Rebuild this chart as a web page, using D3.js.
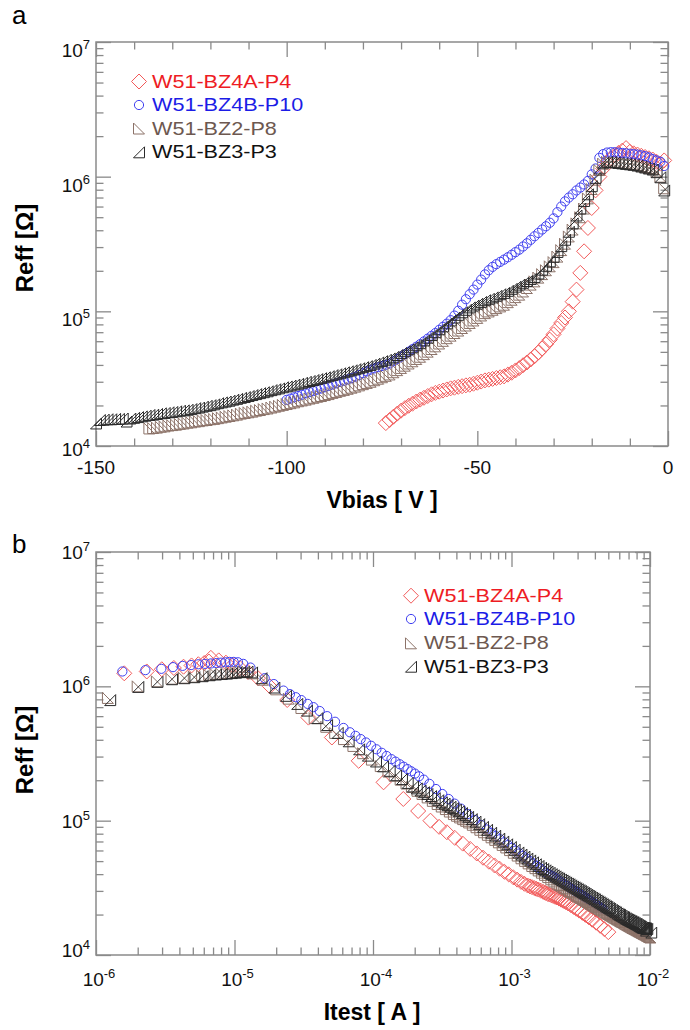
<!DOCTYPE html>
<html>
<head>
<meta charset="utf-8">
<script src="https://cdn.jsdelivr.net/npm/d3@7"></script>
<style>
  body { margin: 0; background: #fff; }
  svg { display: block; font-family: Arial, "Liberation Sans", sans-serif; }
</style>
</head>
<body>
<div id="wrapper"></div>
<script>
// ---- data ----
// Reff, in kOhm, one value per volt of the bias sweep
// (1 V steps, from the start voltage up to -1 V)
const seriesNames = ["W51-BZ4A-P4", "W51-BZ4B-P10", "W51-BZ2-P8", "W51-BZ3-P3"]
const sweepStart = [-74, -100, -136, -150]
const sweepStep = 1

const reffBZ4A = [
  14.8, 15.6, 16.5, 17.4, 18.3, 19.1, 19.9, 20.6, 21.4, 22.1,
  22.8, 23.5, 24.2, 24.8, 25.3, 25.8, 26.3, 26.8, 27.1, 27.5,
  27.8, 28.2, 28.5, 29.0, 29.5, 30.1, 30.7, 31.1, 31.5, 32.0,
  32.4, 32.9, 33.9, 35.0, 36.4, 37.9, 39.8, 41.7, 43.9, 46.4,
  49.5, 53.0, 57.0, 61.6, 67.5, 74.5, 82, 90, 100, 118,
  145, 193, 279, 416, 585, 791, 1000, 1150, 1280, 1370,
  1440, 1500, 1560, 1630, 1530, 1490, 1460, 1430, 1400, 1370,
  1340, 1290, 1250, 1320
]
const reffBZ4B = [
  22.0, 22.5, 23.0, 23.5, 24.0, 24.6, 25.1, 25.6, 26.2, 26.7,
  27.3, 27.9, 28.6, 29.2, 29.9, 30.5, 31.2, 31.9, 32.7, 33.7,
  34.7, 35.8, 36.9, 37.7, 38.5, 39.3, 40.1, 41.0, 42.6, 44.3,
  46.0, 48.0, 50.1, 52.3, 54.6, 57.0, 59.8, 62.7, 65.8, 69.0,
  72.8, 76.8, 81, 86, 93, 101, 112, 123, 134, 145,
  158, 172, 188, 202, 214, 224, 233, 242, 252, 263,
  275, 287, 303, 320, 340, 361, 382, 405, 428, 455,
  490, 545, 600, 655, 700, 740, 790, 830, 875, 930,
  1040, 1150, 1380, 1470, 1510, 1520, 1520, 1510, 1500, 1490,
  1480, 1470, 1460, 1440, 1420, 1390, 1350, 1320, 1290, 1200
]
const reffBZ2 = [
  13.5, 13.6, 13.7, 13.9, 14.0, 14.2, 14.3, 14.4, 14.6, 14.7,
  14.9, 15.0, 15.2, 15.3, 15.5, 15.6, 15.8, 15.9, 16.1, 16.3,
  16.5, 16.7, 16.9, 17.1, 17.4, 17.6, 17.8, 18.0, 18.3, 18.5,
  18.8, 19.0, 19.3, 19.6, 19.9, 20.2, 20.5, 20.8, 21.1, 21.5,
  21.8, 22.1, 22.5, 22.8, 23.2, 23.5, 23.9, 24.3, 24.8, 25.2,
  25.7, 26.1, 26.6, 27.1, 27.6, 28.2, 28.8, 29.4, 30.0, 30.8,
  31.6, 32.4, 33.2, 34.0, 35.3, 36.6, 38.0, 39.5, 41.0, 42.6,
  44.3, 46.0, 48.1, 50.2, 52.5, 55.0, 57.7, 60.4, 63.2, 66.0,
  69.0, 72.0, 75.2, 78.5, 82.0, 85.6, 89.4, 93.2, 97.0, 99.8,
  102.7, 105.7, 108.8, 112, 117, 122, 127.5, 133, 140.5, 149,
  158, 167, 178, 189, 202, 216, 232, 255, 285, 318,
  360, 405, 450, 500, 580, 690, 810, 950, 1120, 1250,
  1290, 1295, 1285, 1275, 1265, 1255, 1245, 1235, 1220, 1200,
  1180, 1160, 1140, 1090, 1000, 820
]
const reffBZ3 = [
  14.7, 15.6, 15.7, 15.8, 15.8, 15.9, 15.9, 16.0, 15.2, 16.0,
  16.2, 16.4, 16.6, 16.8, 17.0, 17.1, 17.3, 17.5, 17.6, 17.8,
  17.9, 18.1, 18.3, 18.4, 18.6, 18.8, 19.1, 19.3, 19.6, 19.9,
  20.1, 20.4, 20.8, 21.1, 21.4, 21.7, 22.1, 22.4, 22.8, 23.1,
  23.5, 23.9, 24.3, 24.7, 25.1, 25.5, 26.0, 26.4, 26.8, 27.3,
  27.7, 28.1, 28.6, 29.0, 29.5, 30.0, 30.4, 30.9, 31.4, 31.9,
  32.4, 33.0, 33.6, 34.1, 34.7, 35.3, 35.9, 36.5, 37.2, 37.8,
  38.5, 39.2, 40.0, 40.9, 41.8, 42.7, 43.7, 44.7, 46.0, 47.4,
  49.0, 50.6, 52.3, 54.1, 56.0, 58.0, 60.8, 63.7, 66.7, 70.0,
  73.6, 77.4, 81.4, 85.6, 90.0, 94.2, 98.4, 102.7, 107, 110.5,
  114, 117.5, 121, 124, 127, 130.5, 134, 137, 142, 147,
  152.5, 158, 163, 168, 174, 180, 191, 204, 218, 235,
  254, 276, 305, 340, 390, 450, 515, 580, 660, 740,
  850, 980, 1150, 1270, 1290, 1285, 1275, 1265, 1255, 1245,
  1235, 1225, 1210, 1190, 1170, 1150, 1130, 1080, 990, 790
]

// axis ticks
const vbiasMajor = [-150, -100, -50, 0]
const vbiasMinor = [-140, -130, -120, -110, -90, -80, -70, -60, -40, -30, -20, -10]

// ---- styles ----
const markerColors = ["#f25a5a", "#4040f0", "#8c7268", "#2a2a2a"]
const textColors = ["#ee1c24", "#1c1ce6", "#6d5850", "#111111"]
const markerShapes = ["diamond", "circle", "triLeft", "triRight"]
const frameColor = "#8a8a8a"
const tickFont = 19

const markerPath = {
  diamond: "M0,-7.5L7.5,0L0,7.5L-7.5,0Z",
  triLeft: "M-5.5,-5.5L-5.5,5.5L5.5,5.5Z",
  triRight: "M5.5,-5.5L5.5,5.5L-5.5,5.5Z"
}

// Itest = |Vbias| / Reff (the sweep of panel a seen against current)
const reffKOhm = [reffBZ4A, reffBZ4B, reffBZ2, reffBZ3]
const series = seriesNames.map((name, k) => ({
  name,
  k,
  points: reffKOhm[k].map((r, i) => {
    const v = sweepStart[k] + i * sweepStep
    return { v, reff: r * 1e3, itest: Math.abs(v) / (r * 1e3) }
  })
}))

const svg = d3.select("#wrapper")
  .append("svg")
    .attr("width", 690)
    .attr("height", 1030)

// draw inward ticks on all four sides and a grey frame
function drawFrame(g, x, y, xMajor, xMinor, yMajor, yMinor) {
  const [x0, x1] = x.range()
  const [yb, yt] = y.range()
  const addAxis = (gen, tx, ty, vals, size) => g.append("g")
    .attr("transform", `translate(${tx},${ty})`)
    .call(gen.tickValues(vals).tickSize(size).tickFormat(""))
    .call(a => a.select(".domain").remove())
    .call(a => a.selectAll("line").attr("stroke", frameColor).attr("stroke-width", 1.3))

  for (const [vals, size] of [[xMajor, -15], [xMinor, -7.5]]) {
    addAxis(d3.axisBottom(x), 0, yb, vals, size)
    addAxis(d3.axisTop(x), 0, yt, vals, size)
  }
  for (const [vals, size] of [[yMajor, -15], [yMinor, -7.5]]) {
    addAxis(d3.axisLeft(y), x0, 0, vals, size)
    addAxis(d3.axisRight(y), x1, 0, vals, size)
  }
  g.append("rect")
    .attr("x", x0).attr("y", yt)
    .attr("width", x1 - x0).attr("height", yb - yt)
    .attr("fill", "none")
    .attr("stroke", frameColor)
    .attr("stroke-width", 1.5)
}

function powLabel(sel, exp) {
  sel.append("tspan").text("10")
  sel.append("tspan").attr("dy", -8).attr("font-size", 13).text(exp)
}

function drawMarkers(g, data, k, xf, yf) {
  const shape = markerShapes[k]
  const sel = g.append("g")
    .attr("fill", "none")
    .attr("stroke", markerColors[k])
    .attr("stroke-width", 1)
    .selectAll("path")
    .data(data)
    .join(shape === "circle" ? "circle" : "path")
  if (shape === "circle") {
    sel.attr("cx", xf).attr("cy", yf).attr("r", 4.6)
  } else {
    sel.attr("d", markerPath[shape])
      .attr("transform", d => `translate(${xf(d)},${yf(d)})`)
  }
}

function drawLegend(g, x, baselines) {
  series.forEach((s, k) => {
    const row = { x: x, y: baselines[k] - 6 }
    drawMarkers(g, [row], k, d => d.x, d => d.y)
    g.append("text")
      .attr("transform", `translate(${x + 13},${baselines[k]}) scale(1.2,1)`)
      .attr("font-size", 18)
      .attr("fill", textColors[k])
      .text(s.name)
  })
}

function yLabels(g, y, x0, dyBase) {
  const decades = y.ticks().filter(t => Number.isInteger(Math.log10(t)))
  decades.forEach(t => {
    g.append("text")
      .attr("x", x0 - 6)
      .attr("y", y(t) + dyBase(t))
      .attr("text-anchor", "end")
      .attr("font-size", tickFont)
      .attr("fill", "#111")
      .call(powLabel, Math.round(Math.log10(t)))
  })
}

// ---------------- panel a ----------------
const xA = d3.scaleLinear().domain([-150, 0]).range([96, 668])
const yA = d3.scaleLog().domain([1e4, 1e7]).range([446, 42])
const gA = svg.append("g")

const yTicksA = yA.ticks()
const isDecade = t => Number.isInteger(Math.log10(t))
drawFrame(gA, xA, yA, vbiasMajor, vbiasMinor,
  yTicksA.filter(isDecade), yTicksA.filter(t => !isDecade(t)))

series.forEach(s => drawMarkers(gA, s.points, s.k, d => xA(d.v), d => yA(d.reff)))

gA.selectAll(".xlab")
  .data(vbiasMajor)
  .join("text")
    .attr("x", d => xA(d))
    .attr("y", 474)
    .attr("text-anchor", "middle")
    .attr("font-size", tickFont)
    .attr("fill", "#111")
    .text(d => d)
yLabels(gA, yA, 96, t => t === 1e4 ? 10 : 15)

drawLegend(gA, 139, [87.5, 111, 134.5, 158.3])

gA.append("text")
  .attr("x", 382).attr("y", 508)
  .attr("text-anchor", "middle")
  .attr("font-size", 23).attr("font-weight", "bold")
  .text("Vbias [ V ]")
gA.append("text")
  .attr("transform", "translate(33,248) rotate(-90)")
  .attr("text-anchor", "middle")
  .attr("font-size", 24).attr("font-weight", "bold")
  .text("Reff [Ω]")
gA.append("text")
  .attr("x", 12).attr("y", 24)
  .attr("font-size", 26)
  .text("a")

// ---------------- panel b ----------------
const xB = d3.scaleLog().domain([1e-6, 1e-2]).range([96, 650])
const yB = d3.scaleLog().domain([1e4, 1e7]).range([955, 552])
const gB = svg.append("g")

const xTicksB = xB.ticks()
const yTicksB = yB.ticks()
drawFrame(gB, xB, yB,
  xTicksB.filter(isDecade), xTicksB.filter(t => !isDecade(t)),
  yTicksB.filter(isDecade), yTicksB.filter(t => !isDecade(t)))

series.forEach(s => drawMarkers(gB,
  s.points.filter(d => d.itest >= 1e-6),
  s.k, d => xB(d.itest), d => yB(d.reff)))

xTicksB.filter(isDecade).forEach(t => {
  gB.append("text")
    .attr("x", xB(t) + 3)
    .attr("y", 986)
    .attr("text-anchor", "middle")
    .attr("font-size", tickFont)
    .attr("fill", "#111")
    .call(powLabel, Math.round(Math.log10(t)))
})
yLabels(gB, yB, 96, t => t === 1e4 ? 2 : 7)

drawLegend(gB, 411, [601.7, 625, 649.3, 672.7])

gB.append("text")
  .attr("x", 372).attr("y", 1020)
  .attr("text-anchor", "middle")
  .attr("font-size", 23).attr("font-weight", "bold")
  .text("Itest [ A ]")
gB.append("text")
  .attr("transform", "translate(33,750) rotate(-90)")
  .attr("text-anchor", "middle")
  .attr("font-size", 24).attr("font-weight", "bold")
  .text("Reff [Ω]")
gB.append("text")
  .attr("x", 12).attr("y", 553)
  .attr("font-size", 26)
  .text("b")
</script>
</body>
</html>
